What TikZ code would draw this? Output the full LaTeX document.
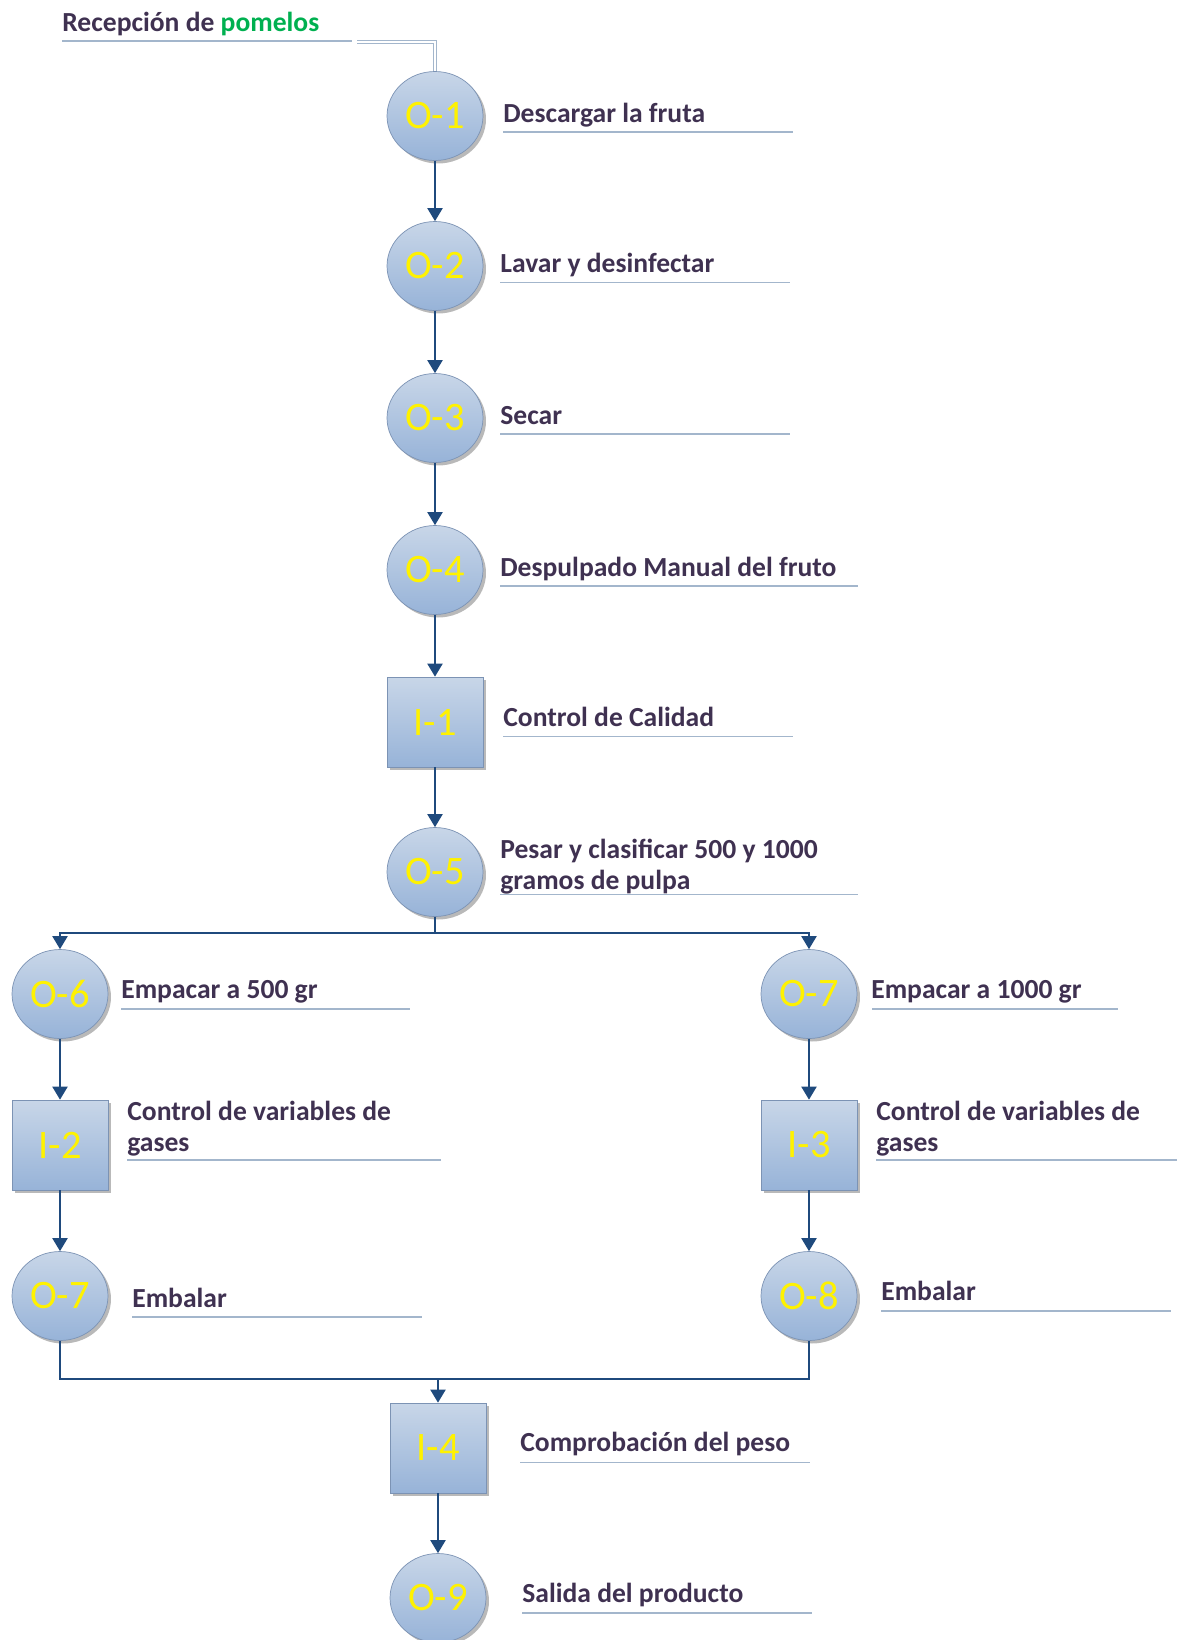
\documentclass[tikz,border=0pt]{standalone}
\usepackage{fontspec}
\setmainfont{Carlito}
\usepackage{tikz}
\usetikzlibrary{shapes,positioning,arrows.meta,shadows}
\definecolor{txt}{HTML}{3F3151}
\definecolor{verde}{HTML}{00B050}
\definecolor{flecha}{HTML}{1F4A7D}
\definecolor{raya}{HTML}{A3B6CC}
\definecolor{borde}{HTML}{7C93B4}
\definecolor{arriba}{HTML}{C8D6E8}
\definecolor{abajo}{HTML}{97B3D8}

\begin{document}
\begin{tikzpicture}[x=0.02cm,y=-0.02cm,
    op/.style={ellipse,draw=borde,top color=arriba,bottom color=abajo,minimum width=1.92cm,minimum height=1.78cm,inner sep=0pt,text=yellow,font=\fontsize{23}{27}\selectfont,drop shadow={shadow xshift=0.06cm,shadow yshift=-0.06cm,opacity=0.55}},
    insp/.style={op,rectangle,minimum width=1.92cm,minimum height=1.8cm},
    lab/.style={anchor=base west,text=txt,font=\fontsize{15.7}{17.5}\selectfont\bfseries,align=left,inner sep=0pt},
    uline/.style={raya,line width=0.6pt},
    flow/.style={flecha,line width=1.2pt,-{Triangle[width=0.3cm,length=0.26cm]}},
    line/.style={flecha,line width=1.2pt}]
    \useasboundingbox (0,0) rectangle (1177,1640);
    % simbolos
    \node[op] (o1) at (435,116) {O-1};
    \node[op] (o2) at (435,266) {O-2};
    \node[op] (o3) at (435,418) {O-3};
    \node[op] (o4) at (435,570) {O-4};
    \node[insp] (i1) at (435,722) {I-1};
    \node[op] (o5) at (435,872) {O-5};
    \node[op] (o6) at (60,994) {O-6};
    \node[op] (o7) at (809,994) {O-7};
    \node[insp] (i2) at (60,1145) {I-2};
    \node[insp] (i3) at (809,1145) {I-3};
    \node[op] (o7b) at (60,1296) {O-7};
    \node[op] (o8) at (809,1296) {O-8};
    \node[insp] (i4) at (438,1448) {I-4};
    \node[op] (o9) at (438,1598) {O-9};
    % textos (en dos lineas la base es la ultima)
    \node[lab] (t0) at (62,31) {Recepción de \textcolor{verde}{pomelos}};
    \node[lab] (t1) at (503,122) {Descargar la fruta};
    \node[lab] (t2) at (500,272) {Lavar y desinfectar};
    \node[lab] (t3) at (500,424) {Secar};
    \node[lab] (t4) at (500,576) {Despulpado Manual del fruto};
    \node[lab] (t5) at (503,726) {Control de Calidad};
    \node[lab] (t6) at (500,889) {Pesar y clasificar 500 y 1000\\gramos de pulpa};
    \node[lab] (t7) at (121,998) {Empacar a 500 gr};
    \node[lab] (t8) at (871,998) {Empacar a 1000 gr};
    \node[lab] (t9) at (127,1151) {Control de variables de\\gases};
    \node[lab] (t10) at (876,1151) {Control de variables de\\gases};
    \node[lab] (t11) at (132,1307) {Embalar};
    \node[lab] (t12) at (881,1300) {Embalar};
    \node[lab] (t13) at (520,1451) {Comprobación del peso};
    \node[lab] (t14) at (522,1602) {Salida del producto};
    \foreach \xa/\xb/\y in {62/352/41,503/793/132,500/790/282.5,500/790/434,500/858/586,503/793/736.5,
      500/858/894.5,121/410/1009,872/1118/1009,127/441/1160,876/1177/1160,132/422/1317,
      881/1171/1311,520/810/1462.5,522/812/1613}
      \draw[uline] (\xa,\y) -- (\xb,\y);
    % conectores
    \coordinate (c0) at (357,42);
    \draw[uline,double=white,double distance=0.04cm] (c0) -| (o1.north);
    \foreach \a/\b in {o1/o2,o2/o3,o3/o4,o4/i1,i1/o5,o6/i2,i2/o7b,o7/i3,i3/o8,i4/o9}
      \draw[flow] (\a) -- (\b);
    \coordinate (split) at (435,933);
    \draw[line] (o5) -- (split);
    \draw[flow] (split) -| (o6);
    \draw[flow] (split) -| (o7);
    \coordinate (join) at (438,1379);
    \draw[line] (o7b.south) |- (join) -| (o8.south);
    \draw[flow] (join) -- (i4);
  \end{tikzpicture}
\end{document}
